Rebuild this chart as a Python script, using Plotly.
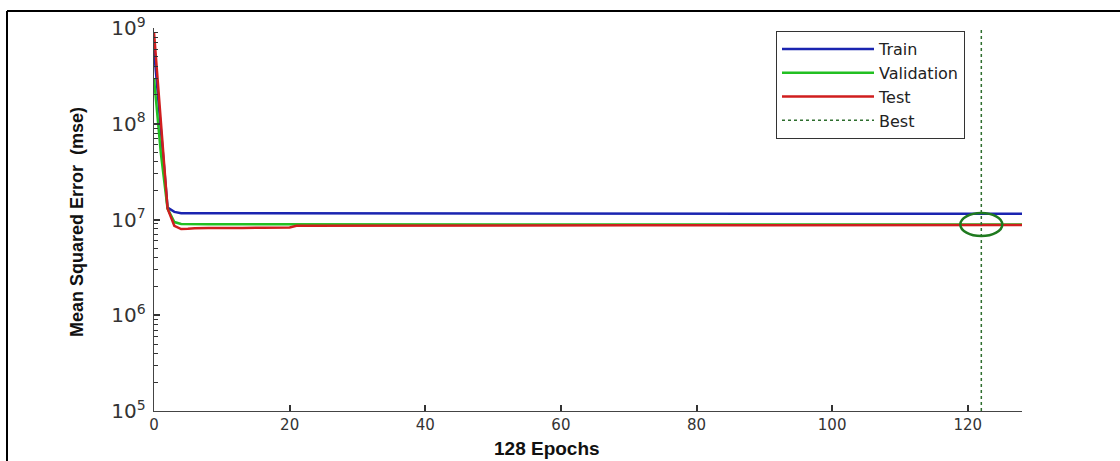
import plotly.graph_objects as go

# Training record (mean squared error per epoch)
epochs = [0, 1, 2, 3, 4, 5, 6, 8, 10, 13, 16, 20, 21, 25, 30, 40, 50, 60, 70, 71,
          80, 90, 100, 110, 120, 122, 124, 126, 128]
train_mse = [6.0e8, 8.0e7, 1.33e7, 1.2e7, 1.16e7, 1.16e7, 1.16e7, 1.16e7, 1.16e7, 1.16e7,
             1.16e7, 1.16e7, 1.16e7, 1.16e7, 1.16e7, 1.16e7, 1.16e7, 1.16e7, 1.16e7, 1.145e7,
             1.145e7, 1.145e7, 1.145e7, 1.145e7, 1.145e7, 1.145e7, 1.145e7, 1.145e7, 1.145e7]
val_mse = [3.0e8, 5.0e7, 1.3e7, 9.4e6, 9.0e6, 8.95e6, 8.9e6, 8.9e6, 8.9e6, 8.9e6,
           8.9e6, 8.9e6, 8.88e6, 8.88e6, 8.88e6, 8.87e6, 8.87e6, 8.87e6, 8.87e6, 8.87e6,
           8.87e6, 8.87e6, 8.87e6, 8.87e6, 8.87e6, 8.86e6, 8.86e6, 8.86e6, 8.86e6]
test_mse = [9.0e8, 1.2e8, 1.3e7, 8.6e6, 7.95e6, 8.0e6, 8.1e6, 8.15e6, 8.2e6, 8.15e6,
            8.2e6, 8.25e6, 8.6e6, 8.62e6, 8.65e6, 8.68e6, 8.7e6, 8.7e6, 8.7e6, 8.7e6,
            8.72e6, 8.72e6, 8.74e6, 8.75e6, 8.75e6, 8.75e6, 8.75e6, 8.75e6, 8.75e6]

best_epoch = 122
best_val = val_mse[epochs.index(best_epoch)]
y_min, y_max = 1e5, 1e9

BLUE = "#1a24b0"
GREEN = "#22c022"
RED = "#d01e1e"
BEST = "#2e6e2e"

fig = go.Figure()
fig.add_trace(go.Scatter(x=epochs, y=train_mse, mode="lines", name="Train",
                         line=dict(color=BLUE, width=2.5)))
fig.add_trace(go.Scatter(x=epochs, y=val_mse, mode="lines", name="Validation",
                         line=dict(color=GREEN, width=2.5)))
fig.add_trace(go.Scatter(x=epochs, y=test_mse, mode="lines", name="Test",
                         line=dict(color=RED, width=2.5)))
fig.add_trace(go.Scatter(x=[best_epoch, best_epoch], y=[y_min, y_max],
                         mode="lines", name="Best",
                         line=dict(color=BEST, width=1.5, dash="dot")))

# ring marking the best validation point: fixed pixel width, spans a
# constant factor above and below the value on the log axis
ring_factor = 1.32
fig.add_shape(type="circle", xref="x", yref="y", layer="above",
              xsizemode="pixel", xanchor=best_epoch, x0=-21, x1=21,
              y0=best_val / ring_factor, y1=best_val * ring_factor,
              line=dict(color="#1f7a1f", width=2.5))

# plot-area geometry in pixels
L, R, T, B = 154, 1022, 28, 411
W, H = R - L, B - T


def px(xp):
    return (xp - L) / W


def py(yp):
    return (B - yp) / H


# outer frame (top and left edges)
fig.add_shape(type="line", xref="paper", yref="paper",
              x0=px(7), x1=px(1120), y0=py(11), y1=py(11),
              line=dict(color="black", width=2))
fig.add_shape(type="line", xref="paper", yref="paper",
              x0=px(7), x1=px(7), y0=py(11), y1=py(461),
              line=dict(color="black", width=2))

fig.add_annotation(text="<b>128 Epochs</b>", xref="paper", yref="paper",
                   x=px(547), y=py(448), showarrow=False,
                   xanchor="center", yanchor="middle",
                   font=dict(family="Liberation Sans, Arial", size=19, color="#111"))
fig.add_annotation(text="<b>Mean Squared Error  (mse)</b>", xref="paper", yref="paper",
                   x=px(77), y=py(222), showarrow=False, textangle=-90,
                   xanchor="center", yanchor="middle",
                   font=dict(family="Liberation Sans, Arial", size=18, color="#111"))

fig.update_layout(
    width=1120, height=461,
    margin=dict(l=L, r=1120 - R, t=T, b=461 - B),
    paper_bgcolor="white", plot_bgcolor="white",
    showlegend=True,
    legend=dict(x=px(776), y=py(31), xanchor="left", yanchor="top",
                bordercolor="#333", borderwidth=1, bgcolor="white",
                font=dict(family="DejaVu Sans", size=16, color="#222"),
                itemwidth=92, tracegroupgap=0),
    font=dict(family="DejaVu Sans", size=14, color="#333"),
)
fig.update_xaxes(range=[0, 128], dtick=20, tick0=0, showgrid=False, zeroline=False,
                 showline=True, linecolor="#444", linewidth=1.2,
                 ticks="inside", ticklen=6, tickwidth=1.5, tickcolor="#333",
                 tickfont=dict(family="DejaVu Sans", size=15, color="#333"))
fig.update_yaxes(type="log", range=[5, 9], dtick=1, exponentformat="power",
                 showgrid=False, zeroline=False,
                 showline=True, linecolor="#444", linewidth=1.2,
                 ticks="inside", ticklen=6, tickwidth=1.5, tickcolor="#333",
                 ticklabelstandoff=4,
                 tickfont=dict(family="DejaVu Sans", size=16, color="#333"),
                 minor=dict(dtick="D1", ticks="inside", ticklen=4, tickwidth=1.2,
                            tickcolor="#333", showgrid=False))

fig.write_html("out.html")
